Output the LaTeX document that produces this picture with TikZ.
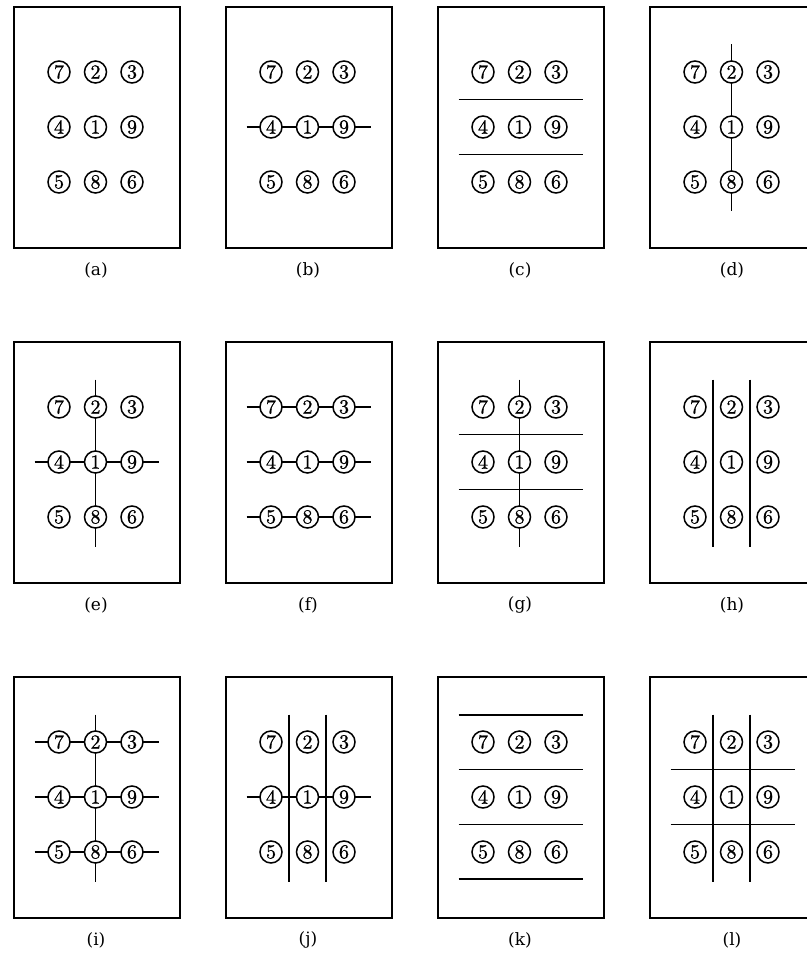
\documentclass[tikz,border=0pt]{standalone}
\usepackage{fontspec}
\newfontfamily\digfont{lmroman10-regular.otf}[FakeBold=1]
\newfontfamily\labfont{DejaVu Serif}
\usetikzlibrary{calc,backgrounds}
\tikzset{
 x=1pt,y=-1pt,
 frame/.style={draw,line width=2pt,minimum width=166pt,minimum height=241pt,inner sep=0pt},
 dig/.style={circle,draw,fill=white,line width=1.5pt,minimum size=22pt,inner sep=0pt,font=\digfont\fontsize{20}{20}\selectfont},
 lab/.style={font=\labfont\fontsize{17}{17}\selectfont},
 rule/.style={line width=1.8pt}
}
\newcommand\mkpanel[3]{%
 \node[frame] (#1f) at ({#2+83},{#3+120.5}) {};
 \node[dig] (#1-7) at ({#2+45},{#3+65}) {7};
 \node[dig] (#1-2) at ({#2+81.5},{#3+65}) {2};
 \node[dig] (#1-3) at ({#2+118},{#3+65}) {3};
 \node[dig] (#1-4) at ({#2+45},{#3+120}) {4};
 \node[dig] (#1-1) at ({#2+81.5},{#3+120}) {1};
 \node[dig] (#1-9) at ({#2+118},{#3+120}) {9};
 \node[dig] (#1-5) at ({#2+45},{#3+175}) {5};
 \node[dig] (#1-8) at ({#2+81.5},{#3+175}) {8};
 \node[dig] (#1-6) at ({#2+118},{#3+175}) {6};
 \node[lab] (#1l) at ({#2+82},{#3+263}) {(#1)};
}
\newcommand\hrow[3]{\draw[rule] ([xshift=-24.5pt]#1-#2.center) -- ([xshift=26.5pt]#1-#3.center);}
\newcommand\vmid[1]{\draw[rule] ([yshift=27.5pt]#1-2.center) -- ([yshift=-29.5pt]#1-8.center);}
\newcommand\hdivA[1]{\draw[rule] ($(#1-7)!.5!(#1-4)+(-24.5,0)$) -- ($(#1-3)!.5!(#1-9)+(26.5,0)$);}
\newcommand\hdivB[1]{\draw[rule] ($(#1-4)!.5!(#1-5)+(-24.5,0)$) -- ($(#1-9)!.5!(#1-6)+(26.5,0)$);}
\newcommand\vdivA[1]{\draw[rule] ($(#1-7)!.5!(#1-2)+(0,-27.5)$) -- ($(#1-5)!.5!(#1-8)+(0,29.5)$);}
\newcommand\vdivB[1]{\draw[rule] ($(#1-2)!.5!(#1-3)+(0,-27.5)$) -- ($(#1-8)!.5!(#1-6)+(0,29.5)$);}
\begin{document}
\begin{tikzpicture}
\useasboundingbox (0,0) rectangle (806,957);
\mkpanel{a}{14}{7}
\mkpanel{b}{226}{7}
\mkpanel{c}{438}{7}
\mkpanel{d}{650}{7}
\mkpanel{e}{14}{342}
\mkpanel{f}{226}{342}
\mkpanel{g}{438}{342}
\mkpanel{h}{650}{342}
\mkpanel{i}{14}{677}
\mkpanel{j}{226}{677}
\mkpanel{k}{438}{677}
\mkpanel{l}{650}{677}
\begin{pgfonlayer}{background}
% (b)
\hrow{b}{4}{9}
% (c)
\hdivA{c} \hdivB{c}
% (d)
\vmid{d}
% (e)
\hrow{e}{4}{9} \vmid{e}
% (f)
\hrow{f}{7}{3} \hrow{f}{4}{9} \hrow{f}{5}{6}
% (g)
\hdivA{g} \hdivB{g} \vmid{g}
% (h)
\vdivA{h} \vdivB{h}
% (i)
\hrow{i}{7}{3} \hrow{i}{4}{9} \hrow{i}{5}{6} \vmid{i}
% (j)
\vdivA{j} \vdivB{j} \hrow{j}{4}{9}
% (k)
\draw[rule] ($(k-7)+(-24.5,-27)$) -- ($(k-3)+(26.5,-27)$);
\hdivA{k} \hdivB{k}
\draw[rule] ($(k-5)+(-24.5,27)$) -- ($(k-6)+(26.5,27)$);
% (l)
\vdivA{l} \vdivB{l} \hdivA{l} \hdivB{l}
\end{pgfonlayer}
\end{tikzpicture}
\end{document}
